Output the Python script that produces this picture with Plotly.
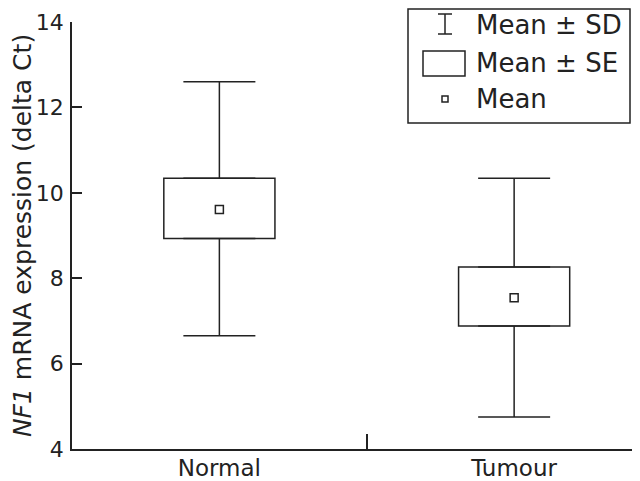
import plotly.graph_objects as go

categories = ["Normal", "Tumour"]
means = [9.61, 7.54]
se_low = [8.93, 6.88]
se_high = [10.34, 8.26]
sd_low = [6.65, 4.75]
sd_high = [12.60, 10.34]
y_ticks = [4, 6, 8, 10, 12, 14]

# the page body has an 8px default margin, so the figure is sized to fit the window
OFF = 8
W, H = 640 - OFF, 481 - OFF
L, R, T, B = 72 - OFF, 0, 22 - OFF, 32
PW, PH = W - L - R, H - T - B
FONT = "DejaVu Sans"
INK = "#222222"
LW = 1.5

def px(x):
    return (x - OFF - L) / PW

def py(y):
    return 1 - (y - OFF - T) / PH

xpos = list(range(len(categories)))

fig = go.Figure()
# SE boxes
fig.add_trace(go.Bar(
    x=xpos, y=[h - l for h, l in zip(se_high, se_low)], base=se_low,
    width=0.377, marker=dict(color="white", line=dict(color=INK, width=LW)),
    showlegend=False, hoverinfo="skip"))
# SD whiskers upward from box top
fig.add_trace(go.Scatter(
    x=xpos, y=se_high, mode="markers", marker=dict(size=1, opacity=0),
    error_y=dict(type="data", symmetric=False,
                 array=[h - s for h, s in zip(sd_high, se_high)], arrayminus=[0] * len(xpos),
                 color=INK, thickness=LW, width=36),
    showlegend=False, hoverinfo="skip"))
# SD whiskers downward from box bottom
fig.add_trace(go.Scatter(
    x=xpos, y=se_low, mode="markers", marker=dict(size=1, opacity=0),
    error_y=dict(type="data", symmetric=False,
                 array=[0] * len(xpos), arrayminus=[s - l for s, l in zip(se_low, sd_low)],
                 color=INK, thickness=LW, width=36),
    showlegend=False, hoverinfo="skip"))
# Means
fig.add_trace(go.Scatter(
    x=xpos, y=means, mode="markers",
    marker=dict(symbol="square-open", size=8, color=INK, line=dict(width=LW, color=INK)),
    showlegend=False, hoverinfo="skip"))

fig.update_layout(
    width=W, height=H, margin=dict(l=L, r=R, t=T, b=B, pad=0, autoexpand=False),
    paper_bgcolor="white", plot_bgcolor="white",
    font=dict(family=FONT, size=24, color=INK),
    showlegend=False,
    xaxis=dict(range=[-0.5, 1.427], tickvals=xpos, ticktext=categories, ticks="",
               showline=True, linecolor=INK, linewidth=LW, showgrid=False, zeroline=False,
               tickfont=dict(size=23), automargin=False, ticklabelstandoff=-2,
               minor=dict(tickmode="array", tickvals=[0.5], ticks="inside", ticklen=15,
                          tickcolor=INK, tickwidth=LW, showgrid=False)),
    yaxis=dict(range=[4, 14], tickvals=y_ticks, ticks="inside", ticklen=10, tickcolor=INK,
               tickwidth=LW, showline=True, linecolor=INK, linewidth=LW, showgrid=False,
               zeroline=False, tickfont=dict(size=22), ticklabelstandoff=2, automargin=False,
               title=dict(text="<i>NF1</i> mRNA expression (delta Ct)", font=dict(size=25),
                          standoff=4)),
)

# Legend box (drawn manually)
shapes = [
    dict(type="rect", xref="paper", yref="paper", x0=px(408), x1=px(630), y0=py(9), y1=py(123),
         line=dict(color=INK, width=LW), fillcolor="white", layer="above"),
    # SD icon
    dict(type="line", xref="paper", yref="paper", x0=px(445), x1=px(445), y0=py(14), y1=py(34),
         line=dict(color=INK, width=LW)),
    dict(type="line", xref="paper", yref="paper", x0=px(438), x1=px(452), y0=py(14), y1=py(14),
         line=dict(color=INK, width=LW)),
    dict(type="line", xref="paper", yref="paper", x0=px(438), x1=px(452), y0=py(34), y1=py(34),
         line=dict(color=INK, width=LW)),
    # SE icon
    dict(type="rect", xref="paper", yref="paper", x0=px(423), x1=px(465), y0=py(51), y1=py(76),
         line=dict(color=INK, width=LW)),
    # Mean icon
    dict(type="rect", xref="paper", yref="paper", x0=px(442), x1=px(448), y0=py(96), y1=py(102),
         line=dict(color=INK, width=LW)),
]
fig.update_layout(shapes=shapes)
for txt, yy in [("Mean ± SD", 25), ("Mean ± SE", 63), ("Mean", 99)]:
    fig.add_annotation(xref="paper", yref="paper", x=px(474), y=py(yy), text=txt,
                       showarrow=False, xanchor="left", yanchor="middle",
                       font=dict(size=26, family=FONT, color=INK))

fig.write_html("out.html")
